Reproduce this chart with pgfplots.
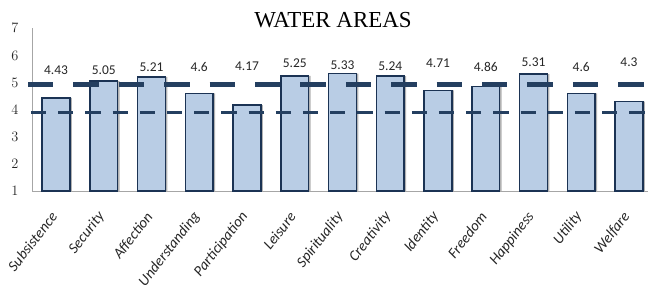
\documentclass[border=0pt]{standalone}
\usepackage{fontspec}
\setmainfont{Carlito}
\newfontfamily\serifont{Liberation Serif}
\usepackage{pgfplots}
\pgfplotsset{compat=1.18}
\usepackage{pgfplotstable}

\definecolor{barfill}{HTML}{B9CDE5}
\definecolor{barline}{HTML}{1B3354}
\definecolor{dashc}{HTML}{243F60}
\definecolor{axisgray}{HTML}{A6A6A6}
\definecolor{txt}{HTML}{262626}

\pgfplotstableread{
x y lab ly
0 4.43 4.43 5.44
1 5.05 5.05 5.44
2 5.21 5.21 5.56
3 4.6 4.6 5.56
4 4.17 4.17 5.59
5 5.25 5.25 5.70
6 5.33 5.33 5.63
7 5.24 5.24 5.59
8 4.71 4.71 5.70
9 4.86 4.86 5.56
10 5.31 5.31 5.74
11 4.6 4.6 5.56
12 4.3 4.3 5.74
}\datatable

\begin{document}
\begin{tikzpicture}
\pgfplotsset{common/.style={scale only axis, width=616bp, height=162.7bp,
  xmin=-0.5026, xmax=12.398, ymin=1, ymax=7, at={(0,0)}, anchor=south west}}
\begin{axis}[common,
  axis x line=bottom, axis y line=left,
  axis line style={-, draw=axisgray, line width=0.9bp},
  ytick={1,2,3,4,5,6,7},
  xtick={0,1,2,3,4,5,6,7,8,9,10,11,12},
  xticklabels={Subsistence,Security,Affection,Understanding,Participation,Leisure,Spirituality,Creativity,Identity,Freedom,Happiness,Utility,Welfare},
  major tick length=0pt, tick style={draw=none},
  yticklabel style={anchor=east, inner sep=0pt, xshift=-13.5bp, font=\serifont\fontsize{13.5}{13.5}\selectfont, text=txt},
  xticklabel style={inner sep=0pt, xshift=-2bp, yshift=-23bp, rotate=52, anchor=east, font=\itshape\fontsize{15}{15}\selectfont, text=txt},
  title={WATER AREAS},
  title style={at={(axis description cs:0.4886,0.969)}, anchor=base, inner sep=0pt, font=\serifont\fontsize{23}{23}\selectfont, text=black},
]
\addplot[ybar, bar width=0.586, bar shift=2bp, fill=gray!60, draw=none, forget plot] table[x=x,y=y]{\datatable};
\addplot[ybar, bar width=0.586, bar shift=0pt, fill=barfill, draw=barline, line width=1.5bp] table[x=x,y=y]{\datatable};
\addplot[draw=none, mark=none, nodes near coords, point meta=explicit symbolic,
  every node near coord/.append style={anchor=center, inner sep=0pt, font=\fontsize{13.5}{13.5}\selectfont, text=txt}]
  table[x=x, y=ly, meta=lab]{\datatable};
\end{axis}
\begin{axis}[common, hide axis, clip=false]
\addplot[dashc, line width=5.8bp, dash pattern=on 25.3bp off 20.1bp] coordinates {(-0.586,4.93) (12.6,4.93)};
\addplot[dashc, line width=3.2bp, dash pattern=on 15.3bp off 11.9bp] coordinates {(-0.524,3.9) (12.6,3.9)};
\end{axis}
\pgfresetboundingbox
\path (-32bp,-97bp) rectangle (616bp,191bp);
\end{tikzpicture}
\end{document}
